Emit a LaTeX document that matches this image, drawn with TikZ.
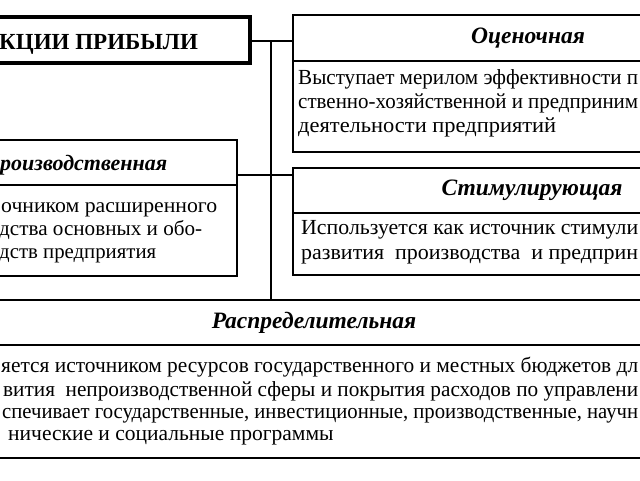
\documentclass[tikz,border=0pt]{standalone}
\usepackage{fontspec}
\usepackage{graphicx}
\setmainfont{Liberation Serif}
\newcommand{\fitto}[2]{\resizebox{#1}{\height}{#2}}
\begin{document}
\begin{tikzpicture}[x=1pt,y=-1pt,
  frame/.style={draw, line width=1.8pt, inner sep=0pt, outer sep=0pt, anchor=north west},
  hdr/.style={frame, font=\fontsize{23.5}{26}\selectfont\bfseries\itshape},
  txt/.style={anchor=base west, inner sep=0pt, font=\fontsize{21.5}{23}\selectfont},
  ptxt/.style={txt, font=\fontsize{21}{23}\selectfont},
  link/.style={line width=1.5pt}]
\useasboundingbox (0,0) rectangle (640,480);
\fill[white] (0,0) rectangle (640,480);
\clip (0,0) rectangle (640,480);

% title
\node[frame, line width=3.2pt, minimum width=310pt, minimum height=46pt] (title) at (-60,17) {};
\node[anchor=base west, inner sep=0pt, font=\fontsize{23}{28}\selectfont\bfseries] (titletxt) at (-1,49) {КЦИИ ПРИБЫЛИ};

% Оценочная
\node[hdr, minimum width=470pt, minimum height=46pt] (ocenH) at (293,15) {Оценочная};
\node[frame, minimum width=470pt, minimum height=91pt] (ocenB) at (293,61) {};
\node[txt] (o1) at (298,84) {\fitto{340pt}{Выступает мерилом эффективности п}};
\node[txt] (o2) at (298,108) {\fitto{340pt}{ственно-хозяйственной и предприним}};
\node[txt] (o3) at (298,132) {\fitto{258pt}{деятельности предприятий}};

% Производственная
\node[frame, minimum width=324pt, minimum height=45pt] (prodH) at (-87,140) {};
\node[frame, minimum width=324pt, minimum height=91pt] (prodB) at (-87,185) {};
\node[anchor=base west, inner sep=0pt, font=\fontsize{22}{24}\selectfont\bfseries\itshape] (ptitle) at (0,170) {роизводственная};
\node[ptxt] (p1) at (1,212) {\fitto{216pt}{очником расширенного}};
\node[ptxt] (p2) at (-1,235) {\fitto{203pt}{дства основных и обо-}};
\node[ptxt] (p3) at (-1,258) {\fitto{157pt}{дств предприятия}};

% Стимулирующая
\node[hdr, minimum width=478pt, minimum height=45pt] (stimH) at (293,168) {Стимулирующая};
\node[frame, minimum width=478pt, minimum height=62pt] (stimB) at (293,213) {};
\node[txt] (s1) at (301,234) {\fitto{337pt}{Используется как источник стимули}};
\node[txt] (s2) at (301,259) {\fitto{337pt}{развития\ \ производства\ \ и предприн}};

% Распределительная
\node[hdr, minimum width=828pt, minimum height=45pt] (raspH) at (-100,300) {Распределительная};
\node[frame, minimum width=828pt, minimum height=113pt] (raspB) at (-100,345) {};
\node[txt] (r1) at (1,372) {\fitto{637pt}{яется источником ресурсов государственного и местных бюджетов дл}};
\node[txt] (r2) at (3,396) {\fitto{635pt}{вития\ \ непроизводственной сферы и покрытия расходов по управлени}};
\node[txt] (r3) at (2,418) {\fitto{636pt}{спечивает государственные, инвестиционные, производственные, научн}};
\node[txt] (r4) at (8,440) {нические и социальные программы};

% connectors
\coordinate (jn) at (271,41);
\coordinate (pj) at (271,175);
\draw[link] (title.east |- jn) -- (jn -| ocenH.west);
\draw[link] (jn) -- (jn |- raspH.north);
\draw[link] (prodB.north east |- pj) -- (stimH.west |- pj);
\end{tikzpicture}
\end{document}
